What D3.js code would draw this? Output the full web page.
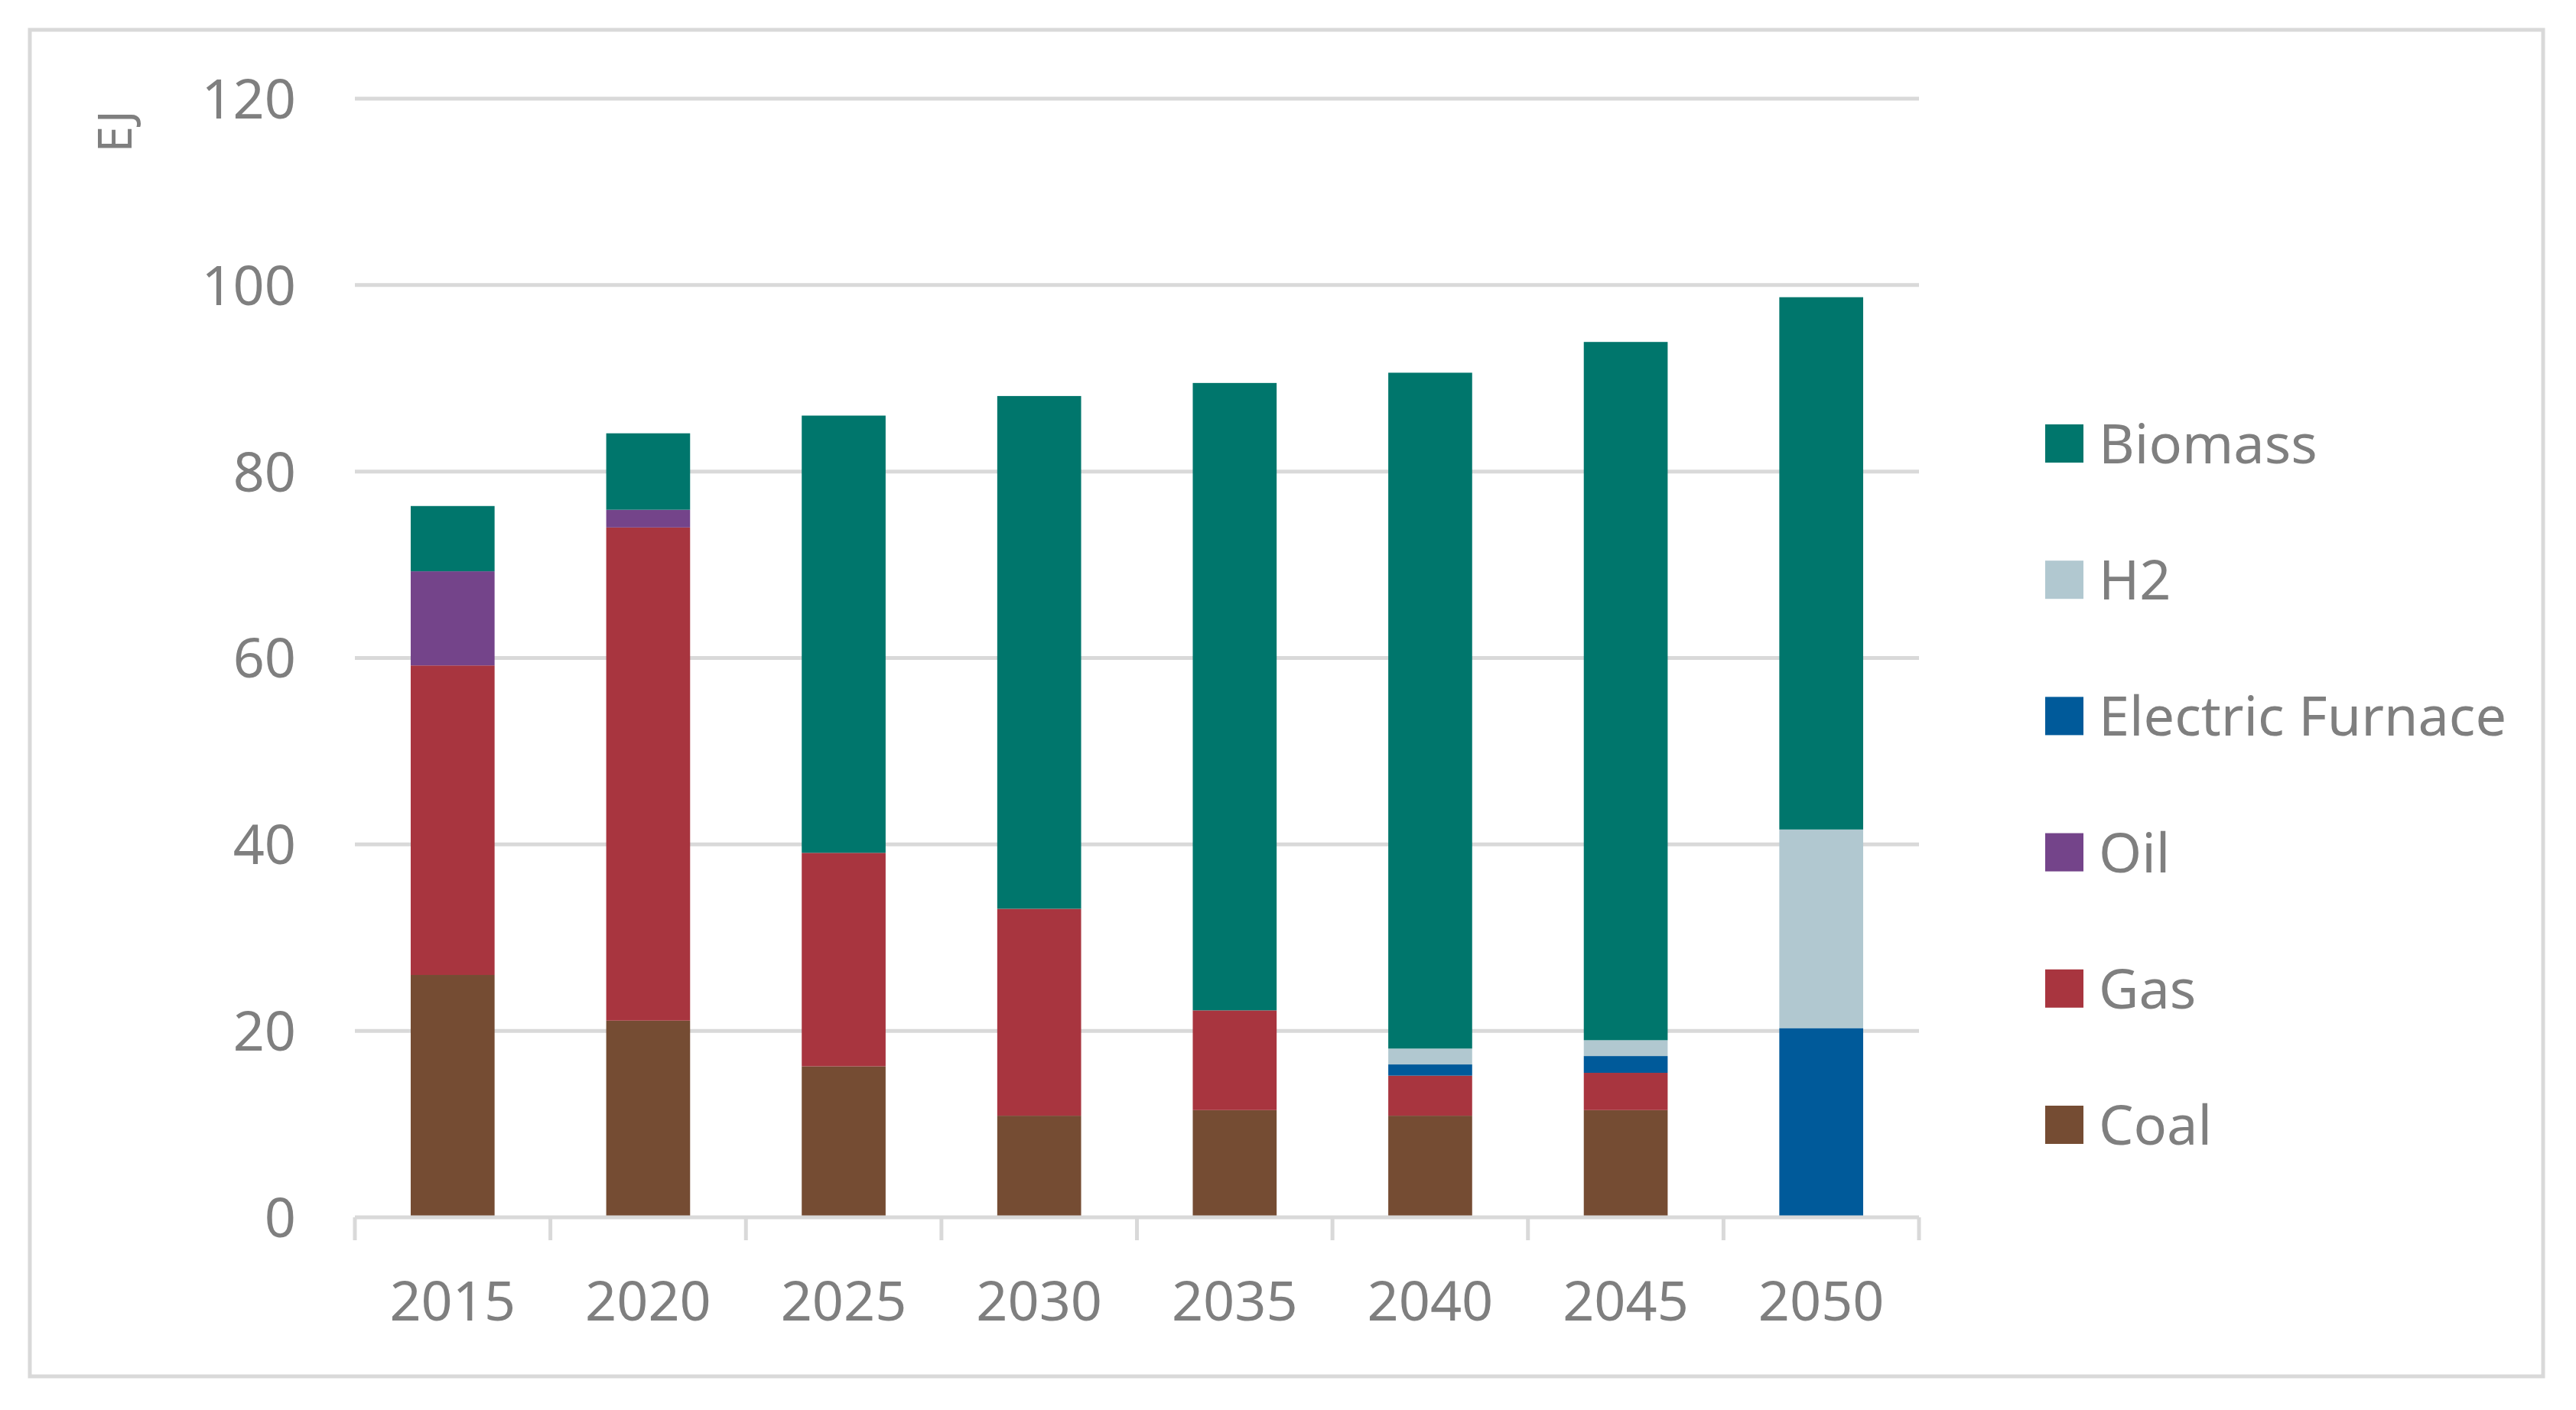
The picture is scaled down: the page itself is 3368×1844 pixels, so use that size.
<!DOCTYPE html>
<html>
<head>
<meta charset="utf-8">
<script src="https://cdn.jsdelivr.net/npm/d3@7"></script>
<style>
  body { margin: 0; background: #fff; }
  text { font-family: "Noto Sans", sans-serif; fill: #7f7f7f; }
</style>
</head>
<body>
<div id="chart"></div>
<script>
// chart data (EJ)
const years = ["2015", "2020", "2025", "2030", "2035", "2040", "2045", "2050"];
const seriesNames = ["Coal", "Gas", "Oil", "Electric Furnace", "H2", "Biomass"];
const coal     = [26.0, 21.1, 16.2, 10.9, 11.5, 10.9, 11.5, 0];
const gas      = [33.2, 52.9, 22.9, 22.2, 10.7, 4.3, 4.0, 0];
const oil      = [10.1, 1.9, 0, 0, 0, 0, 0, 0];
const electric = [0, 0, 0, 0, 0, 1.2, 1.8, 20.3];
const h2       = [0, 0, 0, 0, 0, 1.7, 1.7, 21.3];
const biomass  = [7.0, 8.2, 46.9, 55.0, 67.3, 72.5, 74.9, 57.1];
const yTicks = [0, 20, 40, 60, 80, 100, 120];
const colors = ["#754c33", "#a8353f", "#74448a", "#005a9a", "#b1c8d0", "#00766c"];

const W = 3368, H = 1844;
const svg = d3.select("#chart").append("svg")
    .attr("width", W)
    .attr("height", H);

// outer frame
svg.append("rect")
    .attr("x", 39).attr("y", 39)
    .attr("width", 3286).attr("height", 1761)
    .attr("fill", "none")
    .attr("stroke", "#d9d9d9")
    .attr("stroke-width", 5);

const plotLeft = 464, plotRight = 2509, plotTop = 129, plotBottom = 1592;

const table = years.map((y, i) => ({
    year: y,
    "Coal": coal[i],
    "Gas": gas[i],
    "Oil": oil[i],
    "Electric Furnace": electric[i],
    "H2": h2[i],
    "Biomass": biomass[i]
}));
const stacked = d3.stack().keys(seriesNames)(table);

const x = d3.scaleBand()
    .domain(years)
    .range([plotLeft, plotRight])
    .paddingInner(0.571)
    .paddingOuter(0.2855);
const yScale = d3.scaleLinear().domain([0, 120]).range([plotBottom, plotTop]);
const color = d3.scaleOrdinal().domain(seriesNames).range(colors);

// gridlines
svg.append("g")
    .selectAll("line")
    .data(yTicks.filter(d => d > 0))
    .join("line")
    .attr("x1", plotLeft).attr("x2", plotRight)
    .attr("y1", d => yScale(d)).attr("y2", d => yScale(d))
    .attr("stroke", "#d9d9d9")
    .attr("stroke-width", 5);

// y tick labels
svg.append("g")
    .selectAll("text")
    .data(yTicks)
    .join("text")
    .attr("x", 387)
    .attr("y", d => yScale(d))
    .attr("dy", "0.36em")
    .attr("text-anchor", "end")
    .style("font-size", "72px")
    .text(d => d);

// y axis title
svg.append("text")
    .attr("transform", "translate(172,172) rotate(-90)")
    .attr("text-anchor", "middle")
    .style("font-size", "62px")
    .text("EJ");

// bars
svg.append("g")
    .selectAll("g")
    .data(stacked)
    .join("g")
    .attr("fill", d => color(d.key))
    .selectAll("rect")
    .data(d => d)
    .join("rect")
    .attr("x", d => x(d.data.year))
    .attr("width", x.bandwidth())
    .attr("y", d => yScale(d[1]))
    .attr("height", d => yScale(d[0]) - yScale(d[1]));

// x axis line and ticks
svg.append("line")
    .attr("x1", plotLeft).attr("x2", plotRight)
    .attr("y1", plotBottom).attr("y2", plotBottom)
    .attr("stroke", "#d9d9d9")
    .attr("stroke-width", 5);

const step = x.step();
const boundaries = d3.range(years.length + 1).map(i => plotLeft + i * step);
svg.append("g")
    .selectAll("line")
    .data(boundaries)
    .join("line")
    .attr("x1", d => d).attr("x2", d => d)
    .attr("y1", plotBottom).attr("y2", plotBottom + 30)
    .attr("stroke", "#d9d9d9")
    .attr("stroke-width", 5);

svg.append("g")
    .selectAll("text")
    .data(years)
    .join("text")
    .attr("x", d => x(d) + x.bandwidth() / 2)
    .attr("y", 1701)
    .attr("dy", "0.36em")
    .attr("text-anchor", "middle")
    .style("font-size", "72px")
    .text(d => d);

// legend, top entry is Biomass
const legendOrder = seriesNames.slice().reverse();
const legend = svg.append("g")
    .selectAll("g")
    .data(legendOrder)
    .join("g")
    .attr("transform", (d, i) => "translate(2674," + (580 + i * 178.2) + ")");

legend.append("rect")
    .attr("x", 0).attr("y", -25)
    .attr("width", 50).attr("height", 50)
    .attr("fill", d => color(d));

legend.append("text")
    .attr("x", 70)
    .attr("y", 0)
    .attr("dy", "0.36em")
    .style("font-size", "72px")
    .text(d => d);
</script>
</body>
</html>
